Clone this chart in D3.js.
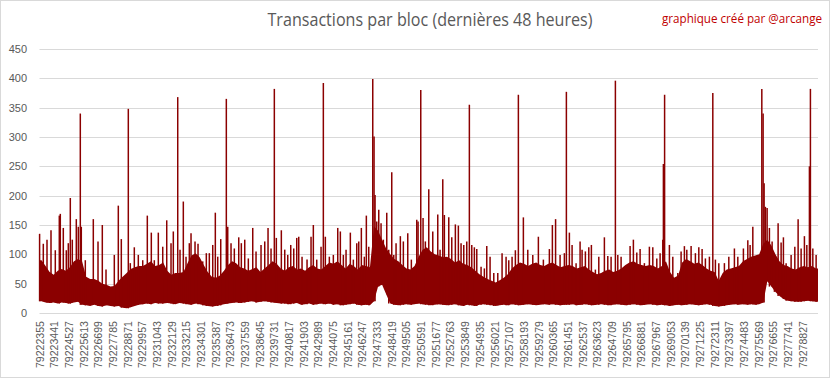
<!DOCTYPE html>
<html><head><meta charset="utf-8">
<script src="https://cdn.jsdelivr.net/npm/d3@7"></script>
<style>body{margin:0;background:#fff} svg{display:block}</style>
</head><body><svg id="c" width="833" height="379"></svg>
<script>
const titleText = "Transactions par bloc (dernières 48 heures)";
const creditText = "graphique créé par @arcange";
const firstBlock = 79222355;
const blockCount = 57600;
const segmentBlocks = 300;
const yTicks = [0, 50, 100, 150, 200, 250, 300, 350, 400, 450];
const tickLabels = ["79222355","79223441","79224527","79225613","79226699","79227785","79228871","79229957","79231043","79232129","79233215","79234301","79235387","79236473","79237559","79238645","79239731","79240817","79241903","79242989","79244075","79245161","79246247","79247333","79248419","79249505","79250591","79251677","79252763","79253849","79254935","79256021","79257107","79258193","79259279","79260365","79261451","79262537","79263623","79264709","79265795","79266881","79267967","79269053","79270139","79271225","79272311","79273397","79274483","79275569","79276655","79277741","79278827"];

// typical upper level of the dense mass, per 300-block window
const bodyTop = [90,80,70,65,72, 75,72,78,88,92, 88,62,58,58,55, 50,48,45,46,55, 62,68,75,78,80, 80,84,88,80,82, 86,72,65,68,68, 70,85,98,102,95, 82,70,62,60,64, 72,82,88,85,78, 76,72,75,78,70, 76,82,88,84,76, 72,78,80,74,76, 72,78,82,76,74, 80,86,84,88,82, 76,84,80,74,82, 80,78,148,140,125, 110,100,92,88,82, 76,74,80,96,108, 112,105,100,98,95, 96,92,86,90,84, 82,78,72,66,62, 58,55,52,56,60, 66,76,82,86,84, 80,84,86,82,80, 84,86,82,78,80, 82,80,76,78,80, 74,70,66,68,72, 74,70,72,76,82, 86,88,84,82,80, 82,80,76,80,88, 70,60,64,86,92, 88,84,86,82,76, 72,70,55,68,74, 76,78,80,88,92, 96,98,100,118,125, 115,100,88,82,80, 76,74,78,80,78, 80,76];
// minimum per 300-block window
const bodyLow = [20,18,17,18,16,18,17,16,18,19, 14,13,12,14,12,11,13,12,11,12, 9,8,10,12,14,15,16,15,17,16, 16,17,16,15,17,16,15,14,16,15, 13,12,11,12,13,15,16,17,18,17, 18,19,20,18,19,20,19,18,17,16, 16,15,16,17,14,15,16,14,15,16, 15,16,14,15,13,14,15,16,14,13, 14,13,20,45,48,32,16,14,13,14, 15,14,15,16,15,14,13,14,15,14, 13,14,15,13,12,14,13,12,14,15, 14,13,12,13,14,13,15,14,13,14, 15,14,13,14,15,14,15,14,13,14, 14,15,13,14,15,14,13,14,15,14, 13,14,15,14,13,14,15,14,13,14, 15,14,13,14,13,12,13,14,13,14, 15,14,13,14,15,14,12,11,12,13, 14,15,14,15,14,15,14,15,18,54, 45,36,29,24,21,20,19,19,20,21, 20,19];
// individual peak blocks (offset from first block) and their transaction counts
const spikeOffsets = [7,281,555,851,1169,1465,1539,1761,1983,2131,2279,2427,2723,2871,3019,3093,3389,3981,4329,4647,4921,5535,5831,6053,6571,6719,7015,7311,7637,7977,8273,8495,8791,9117,9413,
9731,9901,10227,10397,10641,10841,11085,11211,11507,11729,12077,12343,12565,12817,13009,13187,13409,13823,13927,14171,14415,14741,14933,15185,15451,15777,16021,16391,16665,16909,17131,17375,17523,17893,18145,18367,18589,18811,19033,
19181,19425,19795,20091,20261,20513,20831,21001,21149,21445,21741,22067,22259,22481,22681,22999,23221,23473,23621,23813,24035,24183,24361,24657,24753,24827,24953,25101,25271,25441,25693,25841,26063,26211,26381,26699,26921,27247,27513,27913,28009,28209,28379,28549,
28801,29097,29467,29637,29837,29955,30281,30503,30769,30991,31191,31391,31613,31805,31983,32175,32353,32671,32915,33093,33337,33611,33907,34225,34521,34721,34965,35209,35431,35801,36127,36497,36911,37281,37725,37947,38184,
38517,38835,38983,39205,39405,39701,39997,40145,40389,40641,40833,41129,41381,41795,42047,42291,42609,42787,43031,43453,43697,43941,44193,44437,44755,45125,45377,45673,45917,46117,46161,46250,46605,46857,47227,47471,47715,47893,
48211,48529,48781,49025,49269,49565,49817,50009,50261,50675,51001,51415,51667,52081,52407,52577,52777,53021,53443,53539,53613,53709,53835,54005,54205,54375,54649,54871,55041,55241,55611,55885,56129,56351,56595,56773,56965,57039,57217,57461];
const spikeValues = [135,118,125,141,107,166,169,145,107,119,196,125,160,147,340,147,90,160,122,150,74,99,183,126,348,85,112,99,90,166,137,90,137,113,158,
119,139,368,108,190,96,119,136,122,118,88,102,102,116,171,96,126,365,147,119,110,129,119,125,93,145,105,116,122,145,110,382,128,141,108,99,116,110,128,
130,96,91,130,150,91,113,392,130,96,99,145,139,99,108,137,91,119,122,145,96,166,113,399,301,201,156,176,153,125,171,108,240,99,119,131,122,136,91,159,156,380,162,122,
211,139,168,108,228,167,163,129,151,149,119,116,122,355,116,112,109,79,76,114,96,68,68,102,96,90,96,107,372,163,108,99,130,91,109,150,160,
99,102,377,137,116,85,122,108,105,112,116,74,96,129,97,96,396,99,96,74,114,125,103,109,85,113,112,93,102,125,254,372,116,96,68,105,114,108,
114,102,112,109,93,96,375,91,85,85,96,110,96,110,124,116,147,91,382,340,221,181,179,145,122,96,153,120,129,85,99,113,160,110,131,116,250,382,110,99];

const W = 833, H = 379;
const plot = {left: 39.5, right: 818, top: 49, bottom: 313};
const svg = d3.select("#c");
const red = "#8B0000", grey = "#595959", gridC = "#D9D9D9";

svg.append("rect").attr("x", 0.5).attr("y", 0.5).attr("width", W - 4).attr("height", H - 2)
  .attr("fill", "#fff").attr("stroke", gridC).attr("stroke-width", 1);

const x = d3.scaleLinear().domain([firstBlock, firstBlock + blockCount]).range([plot.left, plot.right]);
const y = d3.scaleLinear().domain([0, 450]).range([plot.bottom, plot.top]);

// grid
svg.append("g").selectAll("line").data(yTicks).join("line")
  .attr("x1", plot.left).attr("x2", plot.right)
  .attr("y1", d => Math.round(y(d)) + 0.5).attr("y2", d => Math.round(y(d)) + 0.5)
  .attr("stroke", gridC).attr("stroke-width", 1);

// y labels
svg.append("g").selectAll("text").data(yTicks).join("text")
  .attr("x", 27).attr("y", d => y(d)).attr("dy", "0.35em")
  .attr("text-anchor", "end").attr("fill", grey)
  .attr("font-family", "'Liberation Sans', Arial, sans-serif").attr("font-size", 11)
  .text(d => d);

// x labels
svg.append("g").selectAll("text").data(tickLabels).join("text")
  .attr("transform", d => `translate(${x(+d) + 4},321) rotate(-90)`)
  .attr("text-anchor", "end").attr("fill", grey)
  .attr("font-family", "'Liberation Sans', Arial, sans-serif").attr("font-size", 11)
  .attr("textLength", 47).attr("lengthAdjust", "spacingAndGlyphs")
  .text(d => d);

// dense body (window values placed at window centres)
const segs = bodyTop.map((v, i) => ({b: firstBlock + (i + 0.5) * segmentBlocks, hi: v, lo: bodyLow[i]}));
segs.unshift({b: firstBlock, hi: bodyTop[0], lo: bodyLow[0]});
segs.push({b: firstBlock + blockCount, hi: bodyTop[bodyTop.length - 1], lo: bodyLow[bodyLow.length - 1]});
const area = d3.area().x(d => x(d.b)).y0(d => y(d.lo)).y1(d => y(d.hi)).curve(d3.curveLinear);
svg.append("path").datum(segs).attr("d", area).attr("fill", red);

// peaks
const spikes = spikeOffsets.map((o, i) => {
  const s = Math.min(bodyLow.length - 1, Math.floor(o / segmentBlocks));
  return {b: firstBlock + o, v: spikeValues[i], lo: bodyLow[s]};
});
svg.append("g").selectAll("line").data(spikes).join("line")
  .attr("x1", d => x(d.b)).attr("x2", d => x(d.b))
  .attr("y1", d => y(d.lo)).attr("y2", d => y(d.v))
  .attr("stroke", red).attr("stroke-width", 1.5);

// titles
svg.append("text").attr("x", 430).attr("y", 26).attr("text-anchor", "middle")
  .attr("fill", grey).attr("font-family", "'Open Sans', 'Noto Sans', sans-serif").attr("font-size", 18)
  .attr("textLength", 325).attr("lengthAdjust", "spacingAndGlyphs")
  .text(titleText);
svg.append("text").attr("x", 822).attr("y", 23).attr("text-anchor", "end")
  .attr("fill", "#C00000").attr("font-family", "'Open Sans', 'Noto Sans', sans-serif").attr("font-size", 12)
  .attr("textLength", 160).attr("lengthAdjust", "spacingAndGlyphs")
  .text(creditText);
</script></body></html>
